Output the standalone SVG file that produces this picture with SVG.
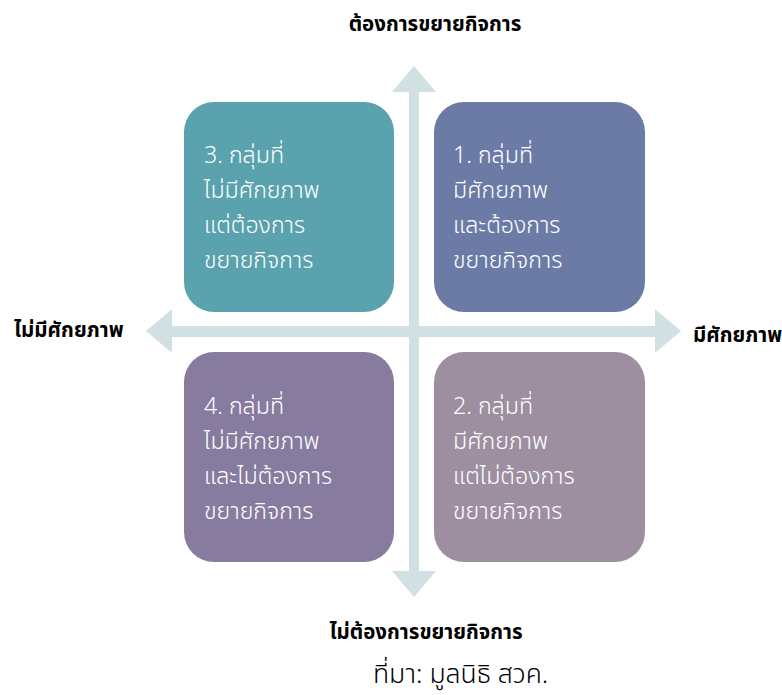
<svg xmlns="http://www.w3.org/2000/svg" width="782" height="695" viewBox="0 0 782 695">
<style>
.box{stroke:none}
.t{fill:#ffffff;font-family:"Noto Sans Thai","Noto Sans","DejaVu Sans",sans-serif;font-size:23.2px;font-weight:300}
.lbl{fill:#000000;font-family:"Noto Sans Thai","Noto Sans","DejaVu Sans",sans-serif;font-size:20.5px;font-weight:bold}
.src{fill:#000000;font-family:"Noto Sans Thai","Noto Sans","DejaVu Sans",sans-serif;font-size:26.5px;font-weight:300}
.ax{fill:#d0e0e3}
</style>
<rect width="782" height="695" fill="#ffffff"/>
<g id="connectors">
<rect class="ax" x="409" y="90" width="10" height="483"/>
<polygon class="ax" points="414,66 436,92 392,92"/>
<polygon class="ax" points="414,597 436,571 392,571"/>
<rect class="ax" x="170" y="326" width="488" height="11"/>
<polygon class="ax" points="146,331 172,309 172,353"/>
<polygon class="ax" points="681,331 655,309 655,353"/>
</g>
<g id="box3">
<rect class="box" x="184" y="102" width="210" height="210" rx="30" fill="#5aa2ad"/>
<text class="t" x="204" y="163">3. กลุ่มที่</text>
<text class="t" x="204" y="198">ไม่มีศักยภาพ</text>
<text class="t" x="204" y="233">แต่ต้องการ</text>
<text class="t" x="204" y="268">ขยายกิจการ</text>
</g>
<g id="box1">
<rect class="box" x="434" y="102" width="211" height="210" rx="30" fill="#6b7ba6"/>
<text class="t" x="453" y="163">1. กลุ่มที่</text>
<text class="t" x="453" y="198">มีศักยภาพ</text>
<text class="t" x="453" y="233">และต้องการ</text>
<text class="t" x="453" y="268">ขยายกิจการ</text>
</g>
<g id="box4">
<rect class="box" x="184" y="352" width="210" height="210" rx="30" fill="#877ca0"/>
<text class="t" x="204" y="414">4. กลุ่มที่</text>
<text class="t" x="204" y="449">ไม่มีศักยภาพ</text>
<text class="t" x="204" y="484">และไม่ต้องการ</text>
<text class="t" x="204" y="519">ขยายกิจการ</text>
</g>
<g id="box2">
<rect class="box" x="434" y="352" width="211" height="210" rx="30" fill="#9d8fa0"/>
<text class="t" x="453" y="414">2. กลุ่มที่</text>
<text class="t" x="453" y="449">มีศักยภาพ</text>
<text class="t" x="453" y="484">แต่ไม่ต้องการ</text>
<text class="t" x="453" y="519">ขยายกิจการ</text>
</g>
<g id="labels">
<text class="lbl" x="435" y="31" text-anchor="middle">ต้องการขยายกิจการ</text>
<text class="lbl" x="14" y="337">ไม่มีศักยภาพ</text>
<text class="lbl" x="693" y="342">มีศักยภาพ</text>
<text class="lbl" x="426" y="639" text-anchor="middle">ไม่ต้องการขยายกิจการ</text>
<text class="src" x="373" y="683">ที่มา: มูลนิธิ สวค.</text>
</g>
</svg>
